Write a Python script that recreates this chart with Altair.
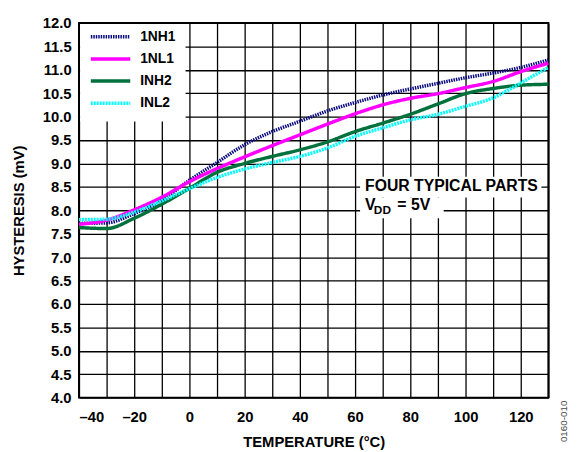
import altair as alt
import pandas as pd

# ---- data ----
temps = [-40, -30, -20, -10, 0, 10, 20, 30, 40, 50, 60, 70, 80, 90, 100, 110, 120, 130]
nh1 = [7.72, 7.73, 7.93, 8.21, 8.64, 9.02, 9.40, 9.68, 9.90, 10.12, 10.30, 10.46, 10.59, 10.71, 10.83, 10.93, 11.05, 11.21]
nl1 = [7.70, 7.79, 8.01, 8.28, 8.61, 8.89, 9.14, 9.38, 9.61, 9.84, 10.06, 10.25, 10.39, 10.49, 10.62, 10.75, 10.96, 11.14]
nh2 = [7.63, 7.61, 7.83, 8.13, 8.47, 8.81, 9.00, 9.15, 9.29, 9.46, 9.68, 9.86, 10.05, 10.27, 10.49, 10.60, 10.67, 10.69]
nl2 = [7.80, 7.81, 7.96, 8.20, 8.46, 8.70, 8.88, 9.02, 9.15, 9.33, 9.58, 9.76, 9.93, 10.05, 10.22, 10.40, 10.72, 11.05]

names = ["1NH1", "1NL1", "INH2", "INL2"]
colors = ["#0a0a80", "#ff00ff", "#00703c", "#00ffff"]
dashes = [[1.5, 1], [1, 0], [1, 0], [2, 1]]

x_ticks = list(range(-40, 131, 10))
y_ticks = [4 + 0.5 * i for i in range(17)]

FONT = "Liberation Sans"
X_TITLE = "TEMPERATURE (°C)"
Y_TITLE = "HYSTERESIS (mV)"

rows = []
for name, vals in zip(names, [nh1, nl1, nh2, nl2]):
    for t, v in zip(temps, vals):
        rows.append({"temp": t, "hyst": v, "series": name})
df = pd.DataFrame(rows)

# white boxes behind legend and annotation (data space)
box_x = [-39.6, 61.8, 61.8]
box_x2 = [-1.4, 127.5, 92.1]
box_y = [11.975, 8.716, 8.274]
box_y2 = [9.895, 8.274, 7.832]
boxes = pd.DataFrame({"x": box_x, "x2": box_x2, "y": box_y, "y2": box_y2})

# annotation text (data space)
ann_text = ["FOUR TYPICAL PARTS", "V", "DD", "= 5V"]
ann_x = [63.6, 63.6, 66.8, 75.3]
ann_y = [8.516, 8.12, 8.0, 8.12]
ann_size = [16, 16, 12, 16]
ann = pd.DataFrame({"x": ann_x, "y": ann_y, "text": ann_text, "fs": ann_size})

xscale = alt.Scale(domain=[-40, 130], nice=False, zero=False)
yscale = alt.Scale(domain=[4, 12], nice=False, zero=False)

xaxis = alt.Axis(
    values=x_ticks,
    labelExpr="datum.value % 20 == 0 ? (datum.value < 0 ? '\u2013' + abs(datum.value) : '' + datum.value) : ''",
    title=X_TITLE,
    labelPadding=12,
    titlePadding=11,
)
yaxis = alt.Axis(values=y_ticks, format=".1f", title=Y_TITLE, labelPadding=8, titlePadding=16)

leg = alt.Legend(
    title=None,
    orient="none",
    legendX=5,
    legendY=7,
    symbolType="M0,0H8",
    symbolSize=100,
    symbolStrokeWidth=3.5,
    labelFontSize=14,
    labelFont=FONT,
    labelFontWeight="bold",
    labelColor="black",
    labelOffset=43,
    rowPadding=8.5,
    padding=0,
)

rect_layer = alt.Chart(boxes).mark_rect(color="white").encode(
    x=alt.X("x:Q", scale=xscale, axis=xaxis, title=X_TITLE),
    x2="x2:Q",
    y=alt.Y("y:Q", scale=yscale, axis=yaxis, title=Y_TITLE),
    y2="y2:Q",
)

lines = alt.Chart(df).mark_line(strokeWidth=3.5, interpolate="monotone", strokeCap="butt").encode(
    x=alt.X("temp:Q", scale=xscale, axis=xaxis, title=X_TITLE),
    y=alt.Y("hyst:Q", scale=yscale, axis=yaxis, title=Y_TITLE),
    color=alt.Color("series:N", scale=alt.Scale(domain=names, range=colors), legend=leg),
    strokeDash=alt.StrokeDash("series:N", scale=alt.Scale(domain=names, range=dashes), legend=leg),
)

texts = alt.Chart(ann).mark_text(align="left", baseline="middle", font=FONT, fontWeight="bold", color="black").encode(
    x=alt.X("x:Q", scale=xscale, axis=xaxis, title=X_TITLE),
    y=alt.Y("y:Q", scale=yscale, axis=yaxis, title=Y_TITLE),
    text="text:N",
    size=alt.Size("fs:Q", scale=None, legend=None),
)

code = alt.Chart(pd.DataFrame({"t": ["0160-010"]})).mark_text(
    angle=270, font=FONT, fontSize=10, color="#444444", align="center", baseline="middle"
).encode(text="t:N", x=alt.value(492), y=alt.value(404))

chart = (
    alt.layer(rect_layer, lines, texts, code)
    .properties(
        width=476,
        height=380,
        autosize="none",
        padding={"left": 72, "top": 12, "right": 26, "bottom": 50},
    )
    .configure_view(stroke="black", strokeWidth=2)
    .configure_axis(
        grid=True,
        gridColor="black",
        gridWidth=1.3,
        gridOpacity=1,
        domain=False,
        ticks=False,
        labelFont=FONT,
        labelFontWeight="bold",
        labelFontSize=15,
        labelColor="black",
        titleFont=FONT,
        titleFontWeight="bold",
        titleFontSize=15,
        titleColor="black",
    )
)

chart.save("out.html", embed_options={"renderer": "svg", "actions": False})
